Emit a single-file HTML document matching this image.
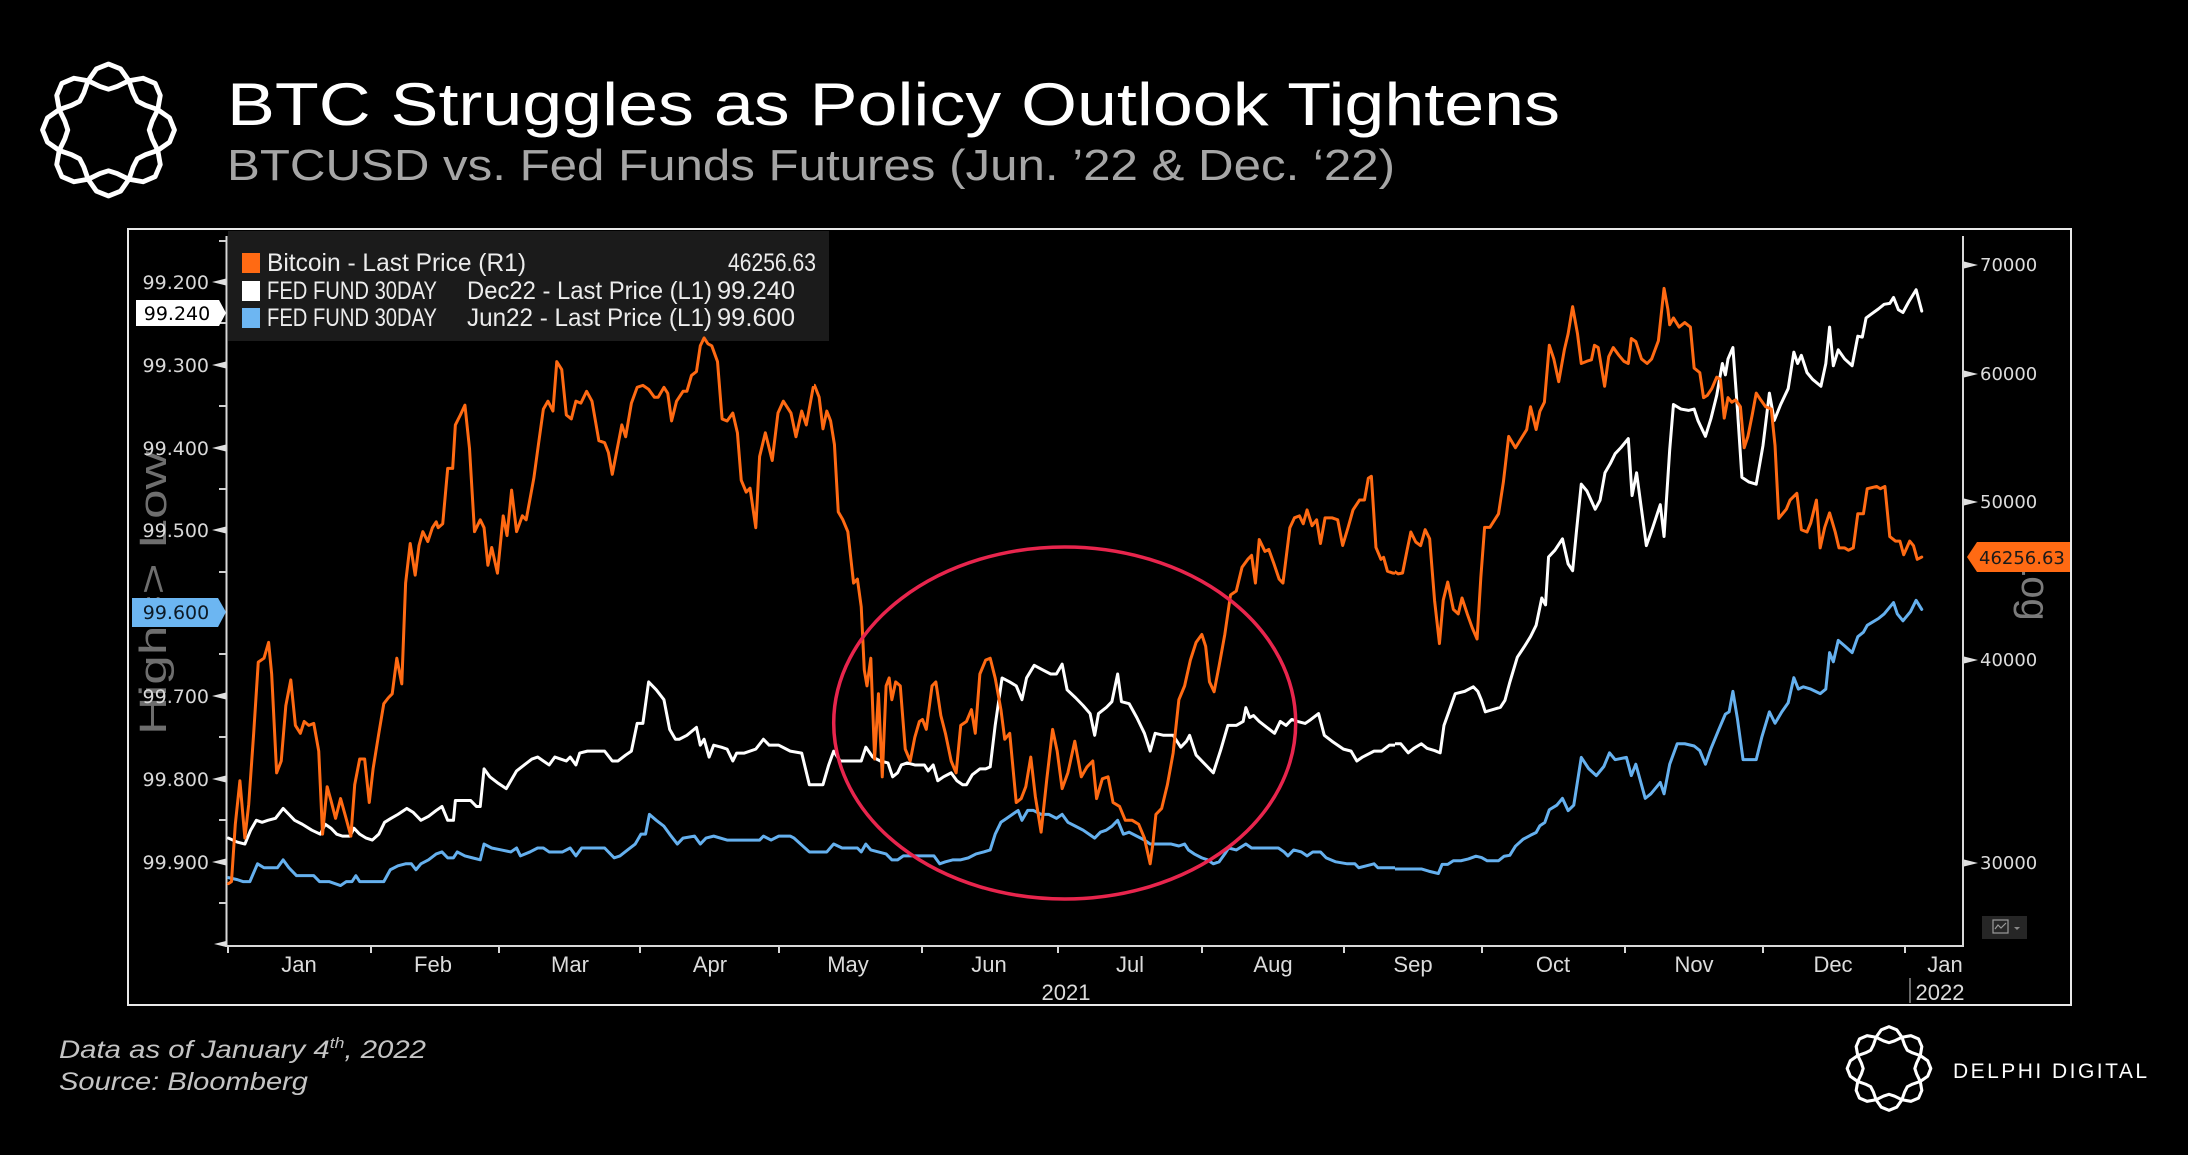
<!DOCTYPE html>
<html>
<head>
<meta charset="utf-8">
<style>
html,body{margin:0;padding:0;background:#000;}
svg{display:block;}
</style>
</head>
<body>
<svg xmlns="http://www.w3.org/2000/svg" width="2188" height="1155" viewBox="0 0 2188 1155">
<defs>
  <clipPath id="c4"><rect x="0" y="0" width="814" height="1155"/></clipPath>
  <clipPath id="c5"><rect x="814" y="0" width="581" height="1155"/></clipPath>
  <clipPath id="c6"><rect x="1395" y="0" width="793" height="1155"/></clipPath>
  <polygon id="lg" fill="none" stroke-linejoin="round" points="68,0 62.96,-12.52 50.81,-21.05 38.09,-25.45 29.7,-29.7 25.45,-38.09 21.05,-50.81 12.52,-62.96 0,-68 -12.52,-62.96 -21.05,-50.81 -25.45,-38.09 -29.7,-29.7 -38.09,-25.45 -50.81,-21.05 -62.96,-12.52 -68,0 -62.96,12.52 -50.81,21.05 -38.09,25.45 -29.7,29.7 -25.45,38.09 -21.05,50.81 -12.52,62.96 0,68 12.52,62.96 21.05,50.81 25.45,38.09 29.7,29.7 38.09,25.45 50.81,21.05 62.96,12.52"/>
</defs>
<rect width="2188" height="1155" fill="#000"/>

<!-- top-left logo -->
<g transform="translate(108.5,130) scale(0.97)" stroke="#fff" stroke-width="5">
  <use href="#lg"/>
  <use href="#lg" transform="rotate(45)"/>
</g>

<!-- titles -->
<text x="227" y="125" font-family="Liberation Sans, sans-serif" font-size="60" fill="#ffffff" textLength="1333" lengthAdjust="spacingAndGlyphs">BTC Struggles as Policy Outlook Tightens</text>
<text x="227" y="180" font-family="Liberation Sans, sans-serif" font-size="44" fill="#a6a6a6" textLength="1168" lengthAdjust="spacingAndGlyphs">BTCUSD vs. Fed Funds Futures (Jun. ’22 &amp; Dec. ‘22)</text>

<!-- chart frame -->
<rect x="128" y="229" width="1943" height="776" fill="none" stroke="#e8e8e8" stroke-width="2"/>

<!-- rotated axis captions -->
<text transform="translate(166,735) rotate(-90)" font-family="Liberation Sans, sans-serif" font-size="38" fill="#6e6e6e" textLength="284" lengthAdjust="spacingAndGlyphs">High=&gt; Low</text>
<text transform="translate(2022,554) rotate(90)" font-family="Liberation Sans, sans-serif" font-size="40" fill="#7a7a7a">Log</text>

<!-- legend -->
<rect x="228" y="231" width="601" height="110" fill="#1b1b1b"/>
<rect x="242" y="253" width="18" height="20" fill="#ff6a13"/>
<rect x="242" y="281" width="18" height="20" fill="#ffffff"/>
<rect x="242" y="308" width="18" height="20" fill="#6db6f2"/>
<g font-family="Liberation Sans, sans-serif" font-size="25" fill="#ececec">
  <text x="267" y="271" textLength="259" lengthAdjust="spacingAndGlyphs">Bitcoin - Last Price (R1)</text>
  <text x="728" y="271" textLength="88" lengthAdjust="spacingAndGlyphs">46256.63</text>
  <text x="267" y="299" textLength="170" lengthAdjust="spacingAndGlyphs">FED FUND 30DAY</text>
  <text x="467" y="299" textLength="245" lengthAdjust="spacingAndGlyphs">Dec22 - Last Price (L1)</text>
  <text x="717" y="299" textLength="78" lengthAdjust="spacingAndGlyphs">99.240</text>
  <text x="267" y="326" textLength="170" lengthAdjust="spacingAndGlyphs">FED FUND 30DAY</text>
  <text x="467" y="326" textLength="245" lengthAdjust="spacingAndGlyphs">Jun22 - Last Price (L1)</text>
  <text x="717" y="326" textLength="78" lengthAdjust="spacingAndGlyphs">99.600</text>
</g>

<!-- axes -->
<g stroke="#d8d8d8" stroke-width="2">
  <line x1="226.5" y1="236" x2="226.5" y2="947"/>
  <line x1="1963" y1="236" x2="1963" y2="947"/>
  <line x1="226" y1="946" x2="1964" y2="946"/>
</g>
<!-- left minor ticks -->
<g stroke="#d0d0d0" stroke-width="2">
  <line x1="219" y1="241" x2="226" y2="241"/>
  <line x1="219" y1="323" x2="226" y2="323"/>
  <line x1="219" y1="406" x2="226" y2="406"/>
  <line x1="219" y1="489" x2="226" y2="489"/>
  <line x1="219" y1="572" x2="226" y2="572"/>
  <line x1="219" y1="654" x2="226" y2="654"/>
  <line x1="219" y1="737" x2="226" y2="737"/>
  <line x1="219" y1="820" x2="226" y2="820"/>
  <line x1="219" y1="903" x2="226" y2="903"/>
</g>
<!-- left major arrows -->
<g fill="#e0e0e0">
  <polygon points="226,278.5 226,285.5 212,282"/>
  <polygon points="226,361.5 226,368.5 212,365"/>
  <polygon points="226,444.5 226,451.5 212,448"/>
  <polygon points="226,526.5 226,533.5 212,530"/>
  <polygon points="226,692.5 226,699.5 212,696"/>
  <polygon points="226,775.5 226,782.5 212,779"/>
  <polygon points="226,858.5 226,865.5 212,862"/>
  <polygon points="226,941 226,947 214,944"/>
</g>
<g font-family="DejaVu Sans, Liberation Sans, sans-serif" font-size="19" fill="#d8d8d8" text-anchor="end">
  <text x="209" y="289">99.200</text>
  <text x="209" y="372">99.300</text>
  <text x="209" y="455">99.400</text>
  <text x="209" y="537">99.500</text>
  <text x="209" y="703">99.700</text>
  <text x="209" y="786">99.800</text>
  <text x="209" y="869">99.900</text>
</g>
<!-- last value labels left -->
<polygon points="136,300 219,300 226,313 219,326 136,326" fill="#ffffff"/>
<text x="177" y="320" text-anchor="middle" font-family="DejaVu Sans, Liberation Sans, sans-serif" font-size="19" fill="#000">99.240</text>
<polygon points="132,598 218,598 226,612 218,627 132,627" fill="#6cb6f2"/>
<text x="176" y="619" text-anchor="middle" font-family="DejaVu Sans, Liberation Sans, sans-serif" font-size="19" fill="#0d1a26">99.600</text>

<!-- right axis -->
<g fill="#e0e0e0">
  <polygon points="1964,261.5 1964,268.5 1978,265"/>
  <polygon points="1964,370.5 1964,377.5 1978,374"/>
  <polygon points="1964,498.5 1964,505.5 1978,502"/>
  <polygon points="1964,656.5 1964,663.5 1978,660"/>
  <polygon points="1964,859.5 1964,866.5 1978,863"/>
</g>
<g font-family="DejaVu Sans, Liberation Sans, sans-serif" font-size="18" fill="#dcdcdc">
  <text x="1980" y="271">70000</text>
  <text x="1980" y="380">60000</text>
  <text x="1980" y="508">50000</text>
  <text x="1980" y="666">40000</text>
  <text x="1980" y="869">30000</text>
</g>
<polygon points="1967,557 1977,542 2070,542 2070,572 1977,572" fill="#ff6a13"/>
<text x="1979" y="564" font-family="DejaVu Sans, Liberation Sans, sans-serif" font-size="18" fill="#1a1a1a">46256.63</text>

<!-- small icon -->
<rect x="1982" y="916" width="45" height="23" fill="#262626"/>
<rect x="1993" y="920" width="15" height="13" fill="none" stroke="#9a9a9a" stroke-width="1.2"/>
<polyline points="1995,929 1998,925 2001,928 2006,923" fill="none" stroke="#9a9a9a" stroke-width="1.2"/>
<polygon points="2014,927 2020,927 2017,930" fill="#8a8a8a"/>

<!-- x ticks -->
<g stroke="#d8d8d8" stroke-width="2">
  <line x1="228" y1="946" x2="228" y2="953"/>
  <line x1="371" y1="946" x2="371" y2="953"/>
  <line x1="499" y1="946" x2="499" y2="953"/>
  <line x1="640" y1="946" x2="640" y2="953"/>
  <line x1="779" y1="946" x2="779" y2="953"/>
  <line x1="922" y1="946" x2="922" y2="953"/>
  <line x1="1058" y1="946" x2="1058" y2="953"/>
  <line x1="1202" y1="946" x2="1202" y2="953"/>
  <line x1="1344" y1="946" x2="1344" y2="953"/>
  <line x1="1482" y1="946" x2="1482" y2="953"/>
  <line x1="1625" y1="946" x2="1625" y2="953"/>
  <line x1="1763" y1="946" x2="1763" y2="953"/>
  <line x1="1905" y1="946" x2="1905" y2="953"/>
</g>
<g font-family="Liberation Sans, sans-serif" font-size="22" fill="#dcdcdc" text-anchor="middle">
  <text x="299" y="972">Jan</text>
  <text x="433" y="972">Feb</text>
  <text x="570" y="972">Mar</text>
  <text x="710" y="972">Apr</text>
  <text x="848" y="972">May</text>
  <text x="989" y="972">Jun</text>
  <text x="1130" y="972">Jul</text>
  <text x="1273" y="972">Aug</text>
  <text x="1413" y="972">Sep</text>
  <text x="1553" y="972">Oct</text>
  <text x="1694" y="972">Nov</text>
  <text x="1833" y="972">Dec</text>
  <text x="1945" y="972">Jan</text>
  <text x="1066" y="1000">2021</text>
  <text x="1940" y="1000">2022</text>
</g>
<line x1="1910" y1="978" x2="1910" y2="1003" stroke="#8a8a8a" stroke-width="1.5"/>

<!-- SERIES: segment 1 -->
<g clip-path="url(#c4)">
 <g transform="translate(220,330) scale(0.38270,0.39541)" fill="none" stroke-width="3" stroke-linejoin="round" stroke-linecap="round">
  <polyline vector-effect="non-scaling-stroke" stroke="#65b0ee" points="22,1385 45,1390 60,1395 78,1395 98,1350 115,1360 150,1360 165,1340 180,1360 200,1380 220,1380 245,1380 260,1395 285,1395 300,1400 315,1405 330,1395 345,1395 355,1380 365,1395 380,1395 400,1395 428,1395 445,1365 465,1355 485,1350 500,1350 512,1365 525,1350 545,1340 565,1325 580,1320 595,1335 610,1335 620,1320 640,1330 660,1335 680,1340 690,1300 710,1310 735,1315 760,1320 775,1310 785,1330 810,1320 830,1310 845,1310 860,1320 880,1320 895,1320 915,1310 930,1330 945,1310 980,1310 1005,1310 1030,1335 1045,1330 1065,1315 1085,1300 1100,1275 1112,1275 1122,1225 1140,1240 1160,1255 1175,1275 1195,1300 1210,1285 1240,1280 1255,1300 1270,1285 1290,1280 1325,1290 1360,1290 1385,1290 1410,1290 1420,1280 1440,1290 1460,1280 1490,1280 1500,1285 1540,1320 1568,1320"/>
  <polyline vector-effect="non-scaling-stroke" stroke="#ffffff" points="22,1285 45,1295 65,1300 80,1265 95,1240 110,1245 125,1240 145,1235 165,1210 180,1225 195,1240 215,1250 240,1265 262,1275 275,1250 290,1260 305,1275 320,1280 340,1280 350,1260 365,1275 382,1285 398,1290 415,1275 430,1245 447,1235 465,1225 488,1210 505,1220 525,1240 545,1230 565,1215 580,1205 595,1240 610,1240 615,1190 635,1190 655,1190 670,1205 680,1205 690,1110 705,1130 725,1145 748,1160 760,1140 775,1115 795,1100 815,1085 830,1080 845,1090 860,1100 875,1080 890,1085 905,1090 915,1080 930,1100 940,1070 960,1065 980,1065 1005,1065 1025,1090 1040,1090 1060,1075 1075,1065 1090,995 1105,995 1120,890 1140,910 1160,935 1175,1010 1190,1035 1200,1035 1220,1025 1245,1005 1255,1050 1265,1035 1278,1080 1290,1050 1310,1055 1325,1060 1340,1090 1350,1070 1370,1070 1400,1060 1420,1035 1435,1050 1460,1050 1490,1065 1520,1070 1540,1150 1568,1150"/>
  <polyline vector-effect="non-scaling-stroke" stroke="#ff6a13" points="22,1400 30,1395 40,1250 52,1140 65,1285 75,1200 88,1020 100,840 115,830 127,790 135,870 148,1120 160,1090 172,950 185,885 197,1000 210,1020 220,990 232,1000 245,995 258,1065 268,1275 280,1155 290,1190 302,1235 315,1185 328,1230 342,1280 352,1150 365,1085 378,1085 390,1195 400,1110 415,1020 428,945 440,930 450,920 462,830 475,895 485,640 497,540 510,620 520,545 530,510 543,535 555,500 565,485 570,500 582,490 595,350 608,350 615,240 628,215 640,190 652,300 665,510 680,480 690,500 700,595 710,550 725,615 740,470 750,520 762,405 775,510 790,470 800,480 820,375 832,290 845,200 857,180 870,205 880,80 893,100 905,215 918,225 930,180 943,185 958,155 972,180 990,280 1005,285 1015,310 1025,365 1038,300 1050,240 1060,270 1075,185 1090,145 1105,140 1120,150 1135,170 1145,170 1160,145 1170,160 1180,230 1193,180 1210,155 1220,155 1232,115 1245,105 1255,40 1265,20 1275,35 1285,40 1300,80 1312,225 1325,230 1340,210 1352,260 1362,380 1375,410 1385,400 1400,500 1410,320 1425,260 1443,330 1458,210 1472,180 1492,210 1505,270 1520,205 1532,240 1550,145 1568,175"/>
 </g>
</g>

<!-- SERIES: segment 2 -->
<g clip-path="url(#c5)">
 <g transform="translate(800,330) scale(0.38270,0.39541)" fill="none" stroke-width="3" stroke-linejoin="round" stroke-linecap="round">
  <polyline vector-effect="non-scaling-stroke" stroke="#65b0ee" points="0,1295 20,1320 45,1320 70,1320 88,1300 110,1310 130,1310 150,1310 160,1320 172,1300 185,1315 205,1320 225,1325 240,1340 255,1340 270,1330 290,1330 310,1330 330,1330 350,1330 365,1350 380,1345 400,1340 420,1340 440,1335 460,1325 480,1320 497,1315 510,1275 525,1245 540,1235 555,1225 570,1215 580,1240 595,1215 610,1215 630,1225 650,1225 670,1235 685,1225 700,1245 720,1255 740,1265 755,1275 770,1285 785,1270 800,1265 815,1255 830,1240 845,1275 860,1270 880,1280 900,1290 915,1300 930,1300 950,1300 970,1300 990,1305 1005,1300 1015,1315 1030,1325 1050,1335 1065,1340 1080,1350 1095,1345 1110,1325 1120,1310 1140,1315 1165,1300 1180,1310 1200,1310 1220,1310 1250,1310 1265,1320 1275,1330 1290,1315 1310,1320 1325,1330 1340,1320 1360,1320 1375,1335 1400,1345 1430,1350 1450,1350 1460,1360 1480,1355 1500,1350 1510,1360 1540,1360 1568,1360"/>
  <polyline vector-effect="non-scaling-stroke" stroke="#ffffff" points="0,1065 15,1090 25,1150 45,1150 60,1150 75,1100 88,1065 105,1090 130,1090 160,1090 172,1055 190,1080 210,1090 230,1095 242,1130 255,1120 265,1100 280,1095 300,1100 325,1100 335,1115 348,1100 360,1140 375,1130 395,1120 410,1140 425,1150 435,1150 450,1125 470,1110 485,1110 497,1105 510,1000 528,880 548,890 565,900 580,935 592,880 612,848 635,860 655,870 670,870 685,845 698,910 720,930 740,950 758,970 770,1025 780,970 800,955 815,940 830,870 840,940 860,945 880,980 900,1020 915,1065 928,1020 950,1025 975,1025 995,1055 1010,1040 1018,1025 1035,1075 1060,1100 1080,1120 1100,1060 1118,1000 1140,1000 1158,990 1165,955 1175,980 1185,975 1200,990 1220,1005 1240,1020 1255,990 1270,1000 1285,985 1300,990 1320,995 1335,985 1355,970 1370,1025 1390,1040 1420,1060 1440,1065 1455,1090 1470,1080 1500,1065 1520,1065 1540,1050 1568,1050"/>
  <polyline vector-effect="non-scaling-stroke" stroke="#ff6a13" points="0,210 10,230 22,170 38,140 50,170 60,250 70,205 80,230 90,290 100,460 112,480 125,510 140,640 150,630 160,700 168,860 175,900 185,830 195,1085 205,920 215,1130 225,900 233,880 240,935 250,890 262,900 275,1060 288,1090 300,1030 312,990 320,985 330,1010 345,900 355,890 368,975 380,1020 395,1090 408,1120 420,1000 435,990 448,960 458,1020 470,870 485,835 497,830 510,880 525,960 535,1035 548,1020 565,1195 578,1185 590,1155 603,1080 615,1180 630,1270 645,1135 660,1010 672,1065 685,1160 700,1120 718,1040 735,1130 750,1105 765,1090 775,1185 790,1135 805,1130 818,1195 835,1205 850,1240 868,1240 885,1250 900,1285 915,1350 922,1300 930,1225 945,1210 960,1150 975,1070 990,935 1005,900 1020,835 1035,790 1050,770 1060,800 1070,890 1082,915 1095,850 1110,770 1125,670 1140,660 1155,600 1170,580 1180,570 1190,640 1200,530 1215,560 1225,555 1238,590 1252,630 1262,640 1280,500 1292,475 1305,470 1315,490 1325,455 1338,495 1350,480 1360,540 1372,475 1390,475 1405,480 1418,545 1432,500 1445,455 1462,430 1475,430 1485,375 1493,370 1505,550 1518,580 1525,575 1535,610 1550,615 1568,615"/>
 </g>
</g>

<!-- SERIES: segment 3 -->
<g clip-path="url(#c6)">
 <g transform="translate(1380,236) scale(0.37622,0.45537)" fill="none" stroke-width="3" stroke-linejoin="round" stroke-linecap="round">
  <polyline vector-effect="non-scaling-stroke" stroke="#65b0ee" points="0,1390 30,1390 60,1390 110,1390 130,1395 155,1400 165,1380 180,1380 195,1372 215,1372 235,1368 255,1362 270,1365 285,1372 315,1372 330,1362 345,1360 360,1340 380,1325 400,1316 415,1310 425,1295 438,1288 450,1260 470,1250 485,1235 500,1262 515,1250 535,1145 555,1170 575,1185 595,1165 610,1135 625,1150 655,1145 668,1185 680,1160 705,1235 720,1225 745,1200 755,1225 770,1160 790,1115 810,1115 835,1120 850,1130 865,1160 880,1125 900,1085 918,1050 928,1045 938,1000 950,1060 965,1150 985,1150 1000,1150 1015,1100 1035,1045 1050,1070 1068,1045 1085,1025 1100,970 1112,995 1125,990 1145,995 1170,1005 1185,995 1195,915 1205,935 1218,888 1235,900 1255,915 1270,880 1285,870 1295,855 1325,840 1340,830 1365,805 1375,830 1390,845 1410,825 1425,800 1440,820"/>
  <polyline vector-effect="non-scaling-stroke" stroke="#ffffff" points="0,1130 15,1130 25,1115 55,1115 75,1135 90,1125 110,1115 125,1125 145,1130 160,1135 170,1075 185,1040 200,1005 225,1000 248,990 260,1000 270,1020 280,1045 300,1040 320,1035 332,1020 345,980 365,925 385,900 400,880 415,855 430,795 440,810 448,705 465,690 485,665 500,720 512,735 522,650 535,545 550,560 572,600 585,580 598,520 612,500 625,478 640,465 660,445 670,570 682,520 695,600 708,680 725,640 745,590 755,660 770,470 780,370 800,380 820,383 835,380 845,405 865,440 880,400 895,350 910,280 918,305 925,270 938,245 950,380 962,530 980,540 1000,545 1018,460 1035,345 1048,405 1065,370 1085,335 1100,255 1110,280 1120,262 1135,300 1150,315 1172,330 1185,280 1195,200 1205,285 1218,250 1235,270 1255,285 1270,220 1282,222 1292,180 1305,172 1325,160 1340,150 1355,148 1365,135 1378,162 1390,168 1405,145 1425,118 1440,165"/>
  <polyline vector-effect="non-scaling-stroke" stroke="#ff6a13" points="0,705 12,700 25,745 35,735 48,742 60,740 72,690 82,650 95,672 108,680 120,645 132,665 145,800 158,895 168,800 180,760 195,820 208,830 218,795 232,830 245,860 258,885 268,750 278,640 292,640 315,610 328,540 342,440 360,465 375,445 390,425 400,375 415,425 425,385 437,365 450,240 462,270 475,320 490,250 500,215 512,155 525,215 535,280 550,275 562,272 570,240 580,245 597,330 608,265 620,245 635,262 648,275 660,280 668,225 680,232 695,270 710,280 722,270 740,230 755,115 765,160 770,195 780,180 795,200 810,190 825,200 835,290 850,300 860,355 870,350 882,335 895,310 905,315 915,400 925,355 935,365 945,360 958,375 968,465 978,440 990,390 1000,345 1012,360 1025,375 1040,380 1050,460 1060,620 1080,600 1090,580 1108,565 1120,645 1135,650 1145,630 1160,580 1170,685 1182,640 1195,608 1210,650 1220,685 1235,685 1245,690 1258,685 1270,610 1285,610 1295,555 1320,550 1330,555 1342,550 1355,660 1370,670 1382,670 1392,700 1408,670 1418,680 1428,710 1440,705"/>
 </g>
</g>

<!-- highlight ellipse -->
<ellipse cx="1064.7" cy="723" rx="231" ry="176" fill="none" stroke="#e8254d" stroke-width="3.5"/>

<!-- footer -->
<text x="59" y="1058" font-family="Liberation Sans, sans-serif" font-style="italic" font-size="25" fill="#c4c4c4" textLength="367" lengthAdjust="spacingAndGlyphs">Data as of January 4<tspan font-size="15" dy="-10">th</tspan><tspan dy="10">, 2022</tspan></text>
<text x="59" y="1090" font-family="Liberation Sans, sans-serif" font-style="italic" font-size="25" fill="#c4c4c4" textLength="249" lengthAdjust="spacingAndGlyphs">Source: Bloomberg</text>

<!-- bottom-right logo -->
<g transform="translate(1889,1068.5) scale(0.615)" stroke="#fff" stroke-width="5">
  <use href="#lg"/>
  <use href="#lg" transform="rotate(45)"/>
</g>
<text x="1953" y="1078" font-family="Liberation Sans, sans-serif" font-size="21" fill="#ffffff" textLength="194" lengthAdjust="spacing">DELPHI DIGITAL</text>
</svg>
</body>
</html>
